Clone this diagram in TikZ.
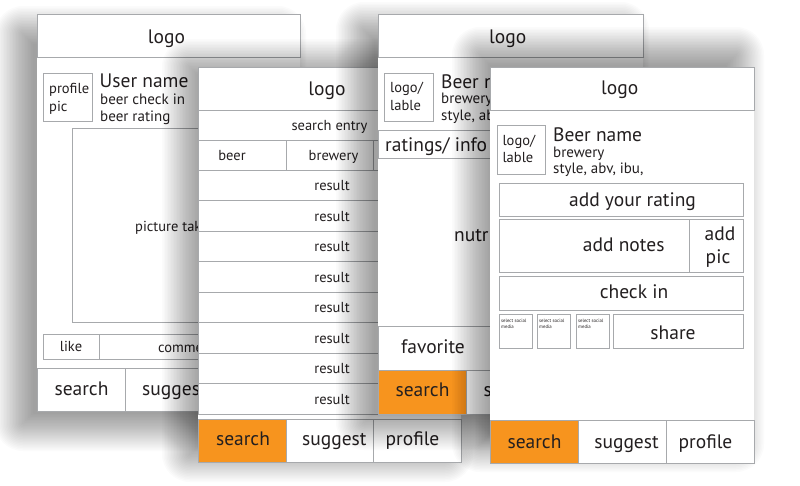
\documentclass[tikz,border=0pt]{standalone}
\usepackage{fontspec}
\setmainfont{PT Sans}
\definecolor{ink}{HTML}{231F20}
\definecolor{frame}{HTML}{A7A9AC}
\definecolor{tab}{HTML}{F7941E}
\tikzset{
  box/.style={draw=frame, line width=0.9pt},
  big/.style={font=\fontsize{19.5}{21}\selectfont, text=ink, inner sep=0pt, anchor=base},
  mid/.style={font=\fontsize{15}{17}\selectfont, text=ink, inner sep=0pt, anchor=base west},
  sml/.style={font=\fontsize{14.5}{16}\selectfont, text=ink, inner sep=0pt, anchor=base},
  tiny/.style={font=\fontsize{4.8}{5.4}\selectfont, text=ink, inner sep=0pt, anchor=north west, align=left},
}
% soft shadow: x1 y1 x2 y2 dx dy
\newcommand\screenshade[6]{%
  \foreach \k [evaluate=\k as \r using {max(1,1.5*\k+4)}] in {-9,...,16}
    \fill[black, opacity=0.015, rounded corners=\r pt]
      ({#1+#5-1.5*\k}, {#2+#6-1.5*\k}) rectangle ({#3+#5+1.5*\k}, {#4+#6+1.5*\k});
}

\begin{document}
\begin{tikzpicture}[x=1pt, y=-1pt]
    \useasboundingbox (0,0) rectangle (800,485);
    \fill[white] (0,0) rectangle (800,485);

    % profile screen
    \screenshade{37}{14}{300}{411}{-18}{16}
    \fill[white] (37,14) rectangle (300,411);
    \draw[box] (37,14) rectangle (300,57);
    \node[big] (s1logo) at (166.5,43) {logo};
    \draw[box] (43,73) rectangle (92,121);
    \node[sml, anchor=base west] (s1pic) at (49,93) {profile};
    \node[sml, anchor=base west] (s1pic2) at (49,111) {pic};
    \node[big, anchor=base west] (s1user) at (99.5,87.7) {User name};
    \node[mid] (s1check) at (100,104) {beer check in};
    \node[mid] (s1rate) at (100,121) {beer rating};
    \draw[box] (72,128) rectangle (265,322);
    \node[sml, anchor=base west] (s1photo) at (135,231.5) {picture taken};
    \draw[box] (43,334) rectangle (99,359);
    \draw[box] (99,334) rectangle (294,359);
    \node[sml] (s1like) at (71,351.5) {like};
    \node[sml, anchor=base west] (s1comm) at (158,352) {comments};
    \draw[box] (37,368) rectangle (125,411);
    \draw[box] (125,368) rectangle (212,411);
    \draw[box] (212,368) rectangle (300,411);
    \node[big] (s1search) at (81.5,395) {search};
    \node[big, anchor=base west] (s1sugg) at (142,395) {suggest};
    \node[big] (s1prof) at (256,395) {profile};

    % search screen
    \screenshade{198}{67}{461}{462}{-12}{-4}
    \fill[white] (198,67) rectangle (461,462);
    \draw[box] (198,67) rectangle (461,110);
    \node[big] (s2logo) at (327,95) {logo};
    \draw[box] (198,110) rectangle (461,140);
    \node[sml] (s2entry) at (329.5,130) {search entry};
    \draw[box] (198,140) rectangle (286,170);
    \draw[box] (286,140) rectangle (373,170);
    \draw[box] (373,140) rectangle (461,170);
    \node[sml] (s2beer) at (232,160) {beer};
    \node[sml] (s2brew) at (333.5,160) {brewery};
    \foreach \i in {0,...,7} {
        \draw[box] (198,{170+30.5*\i}) rectangle (461,{200.5+30.5*\i});
        \node[sml] (s2res\i) at (332,{190.7+30.5*\i}) {result};
    }
    \fill[tab] (198,419) rectangle (286,462);
    \draw[box] (198,419) rectangle (286,462);
    \draw[box] (286,419) rectangle (373,462);
    \draw[box] (373,419) rectangle (461,462);
    \node[big] (s2search) at (243,445) {search};
    \node[big] (s2sugg) at (334.3,445) {suggest};
    \node[big] (s2prof) at (412.5,445) {profile};

    % beer info screen
    \screenshade{378}{14}{643}{414}{-18}{12}
    \fill[white] (378,14) rectangle (643,414);
    \draw[box] (378,14) rectangle (643,57);
    \node[big] (s3logo) at (507.7,43) {logo};
    \draw[box] (384,73) rectangle (433,121);
    \node[sml, anchor=base west] (s3lab) at (390,92.7) {logo/};
    \node[sml, anchor=base west] (s3lab2) at (390,110.7) {lable};
    \node[big, anchor=base west] (s3name) at (441,88.3) {Beer name};
    \node[mid] (s3brew) at (441,103) {brewery};
    \node[mid] (s3style) at (441,120) {style, abv, ibu,};
    \draw[box] (378,130) rectangle (643,158);
    \node[big, anchor=base west] (s3info) at (385,151.5) {ratings/ info};
    \node[big, anchor=base west] (s3nutr) at (454,241.5) {nutrition};
    \draw[box] (378,326) rectangle (643,370);
    \node[big] (s3fav) at (433,353) {favorite};
    \fill[tab] (378,370) rectangle (466.7,414);
    \draw[box] (378,370) rectangle (466.7,414);
    \draw[box] (466.7,370) rectangle (555,414);
    \draw[box] (555,370) rectangle (643,414);
    \node[big] (s3search) at (422.5,396.7) {search};
    \node[big, anchor=base west] (s3sugg) at (483.3,396.7) {suggest};
    \node[big] (s3prof) at (599,396.7) {profile};

    % check in screen
    \screenshade{490}{67}{754}{464}{-14}{-16}
    \fill[white] (490,67) rectangle (754,464);
    \draw[box] (490,67) rectangle (754,110);
    \node[big] (s4logo) at (619.7,94.3) {logo};
    \draw[box] (497,125) rectangle (545,174);
    \node[sml, anchor=base west] (s4lab) at (502.3,145.7) {logo/};
    \node[sml, anchor=base west] (s4lab2) at (502.3,162.7) {lable};
    \node[big, anchor=base west] (s4name) at (553,141) {Beer name};
    \node[mid] (s4brew) at (553,157) {brewery};
    \node[mid] (s4style) at (553,173) {style, abv, ibu,};
    \draw[box] (499,183) rectangle (743,216);
    \node[big] (s4rate) at (632.5,206.7) {add your rating};
    \draw[box] (499,219) rectangle (689,272);
    \draw[box] (689,219) rectangle (743,272);
    \node[big] (s4notes) at (623.7,251) {add notes};
    \node[big] (s4add) at (720,240) {add};
    \node[big] (s4pic) at (718,263.3) {pic};
    \draw[box] (499,276.7) rectangle (743,310);
    \node[big] (s4check) at (634,298.3) {check in};
    \foreach \a/\b [count=\n] in {499/532, 537/570, 576/609} {
        \draw[box] (\a,314) rectangle (\b,348);
        \node[tiny] (s4soc\n) at ({\a+2},319) {select social\\media};
    }
    \draw[box] (613,314) rectangle (743,348);
    \node[big] (s4share) at (673,339.3) {share};
    \fill[tab] (490,420.7) rectangle (578,463.7);
    \draw[box] (490,420.7) rectangle (578,463.7);
    \draw[box] (578,420.7) rectangle (666,463.7);
    \draw[box] (666,420.7) rectangle (754,463.7);
    \node[big] (s4search) at (534.5,448.3) {search};
    \node[big] (s4sugg) at (626.5,448.3) {suggest};
    \node[big] (s4prof) at (705.5,448.3) {profile};
\end{tikzpicture}
\end{document}
